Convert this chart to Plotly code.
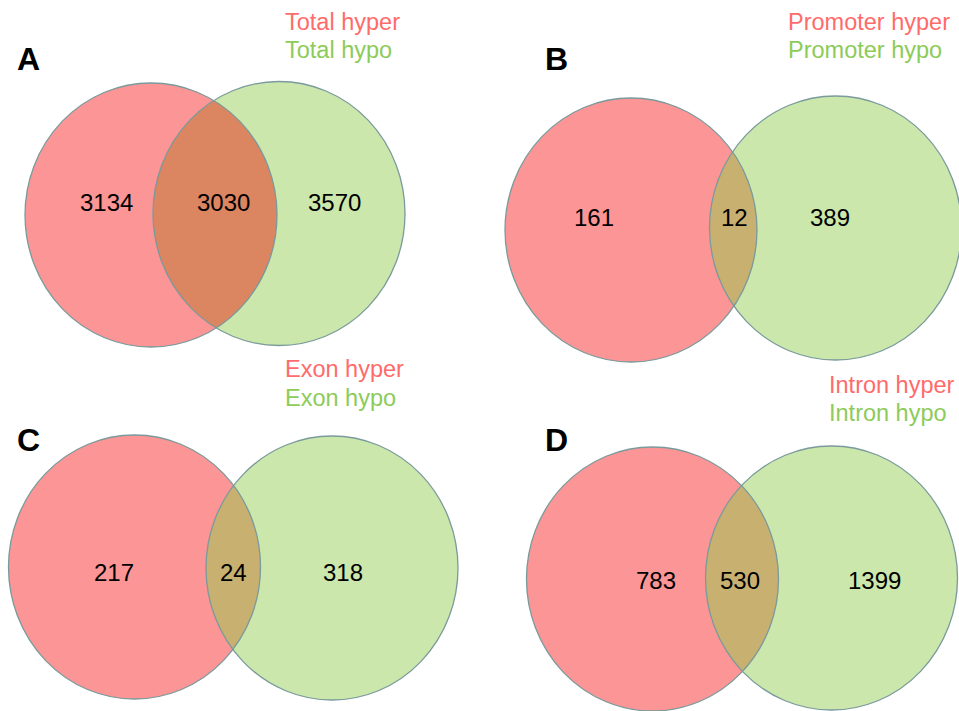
import numpy as np
import plotly.graph_objects as go

# Region counts per comparison: hyper only, shared, hypo only
panels = ["A", "B", "C", "D"]
set_names = ["Total", "Promoter", "Exon", "Intron"]
hyper_only = [3134, 161, 217, 783]
shared = [3030, 12, 24, 530]
hypo_only = [3570, 389, 318, 1399]

W, H = 959, 711
RX, RY = 126, 132

# Layout of each panel (pixel space): ellipse centres, count label spots, header spots
left_centres = [(151, 215), (631, 230), (134.5, 567), (652.5, 579)]
right_centres = [(279, 213.5), (835.5, 228), (332, 568), (831.5, 578)]
count_x = [(106, 223, 334), (594, 734, 830), (114, 233, 343), (656, 740, 874)]
count_y = [202, 217, 572, 580]
letter_pos = [(15, 59), (543, 59), (15, 440), (543, 440)]
legend_pos = [(283, 22, 50), (786, 22, 50), (283, 369, 398), (827, 385, 413)]

RED_FILL = "#FC9595"
GREEN_FILL = "#CBE7AB"
LENS_FILL = ["#DC8561", "#C8B070", "#C8B070", "#C8B070"]
EDGE = "#7A9A9C"
RED_TXT = "#FF6B6B"
GREEN_TXT = "#8DCB59"
FONT = "Liberation Sans, Arial, sans-serif"


def inside(px, py, c):
    return ((px - c[0]) / RX) ** 2 + ((py - c[1]) / RY) ** 2 <= 1.0


def lens_path(c1, c2):
    t1 = np.linspace(-np.pi, np.pi, 1441)
    x1 = c1[0] + RX * np.cos(t1)
    y1 = c1[1] + RY * np.sin(t1)
    m1 = inside(x1, y1, c2)
    t2 = np.linspace(0, 2 * np.pi, 1441)
    x2 = c2[0] + RX * np.cos(t2)
    y2 = c2[1] + RY * np.sin(t2)
    m2 = inside(x2, y2, c1)
    xs = np.concatenate([x1[m1], x2[m2]])
    ys = np.concatenate([y1[m1], y2[m2]])
    pts = " L ".join(f"{a:.2f},{b:.2f}" for a, b in zip(xs, ys))
    return "M " + pts + " Z"


def ellipse(c, fill, line):
    return dict(type="circle", xref="x", yref="y", layer="above",
                x0=c[0] - RX, x1=c[0] + RX, y0=c[1] - RY, y1=c[1] + RY,
                fillcolor=fill, line=line)


shapes = []
annotations = []
for i in range(4):
    cl, cr = left_centres[i], right_centres[i]
    shapes.append(ellipse(cl, RED_FILL, dict(width=0)))
    shapes.append(ellipse(cr, GREEN_FILL, dict(width=0)))
    shapes.append(dict(type="path", xref="x", yref="y", layer="above",
                       path=lens_path(cl, cr), fillcolor=LENS_FILL[i],
                       line=dict(width=0)))
    shapes.append(ellipse(cl, "rgba(0,0,0,0)", dict(color=EDGE, width=1.3)))
    shapes.append(ellipse(cr, "rgba(0,0,0,0)", dict(color=EDGE, width=1.3)))

    for x, v in zip(count_x[i], (hyper_only[i], shared[i], hypo_only[i])):
        annotations.append(dict(x=x, y=count_y[i], xref="x", yref="y",
                                text=str(v), showarrow=False,
                                xanchor="center", yanchor="middle",
                                font=dict(family=FONT, size=24, color="black")))

    lx, ly = letter_pos[i]
    annotations.append(dict(x=lx, y=ly, xref="x", yref="y",
                            text=f"<b>{panels[i]}</b>", showarrow=False,
                            xanchor="left", yanchor="middle",
                            font=dict(family=FONT, size=32, color="black")))

    gx, gy1, gy2 = legend_pos[i]
    annotations.append(dict(x=gx, y=gy1, xref="x", yref="y",
                            text=f"{set_names[i]} hyper", showarrow=False,
                            xanchor="left", yanchor="middle",
                            font=dict(family=FONT, size=23.5, color=RED_TXT)))
    annotations.append(dict(x=gx, y=gy2, xref="x", yref="y",
                            text=f"{set_names[i]} hypo", showarrow=False,
                            xanchor="left", yanchor="middle",
                            font=dict(family=FONT, size=23.5, color=GREEN_TXT)))

fig = go.Figure()
fig.update_layout(
    width=W, height=H,
    margin=dict(l=0, r=0, t=0, b=0),
    paper_bgcolor="white", plot_bgcolor="white",
    xaxis=dict(range=[0, W], visible=False, fixedrange=True),
    yaxis=dict(range=[H, 0], visible=False, fixedrange=True),
    shapes=shapes, annotations=annotations, showlegend=False,
)
fig.write_html("out.html", config={"displayModeBar": False})
